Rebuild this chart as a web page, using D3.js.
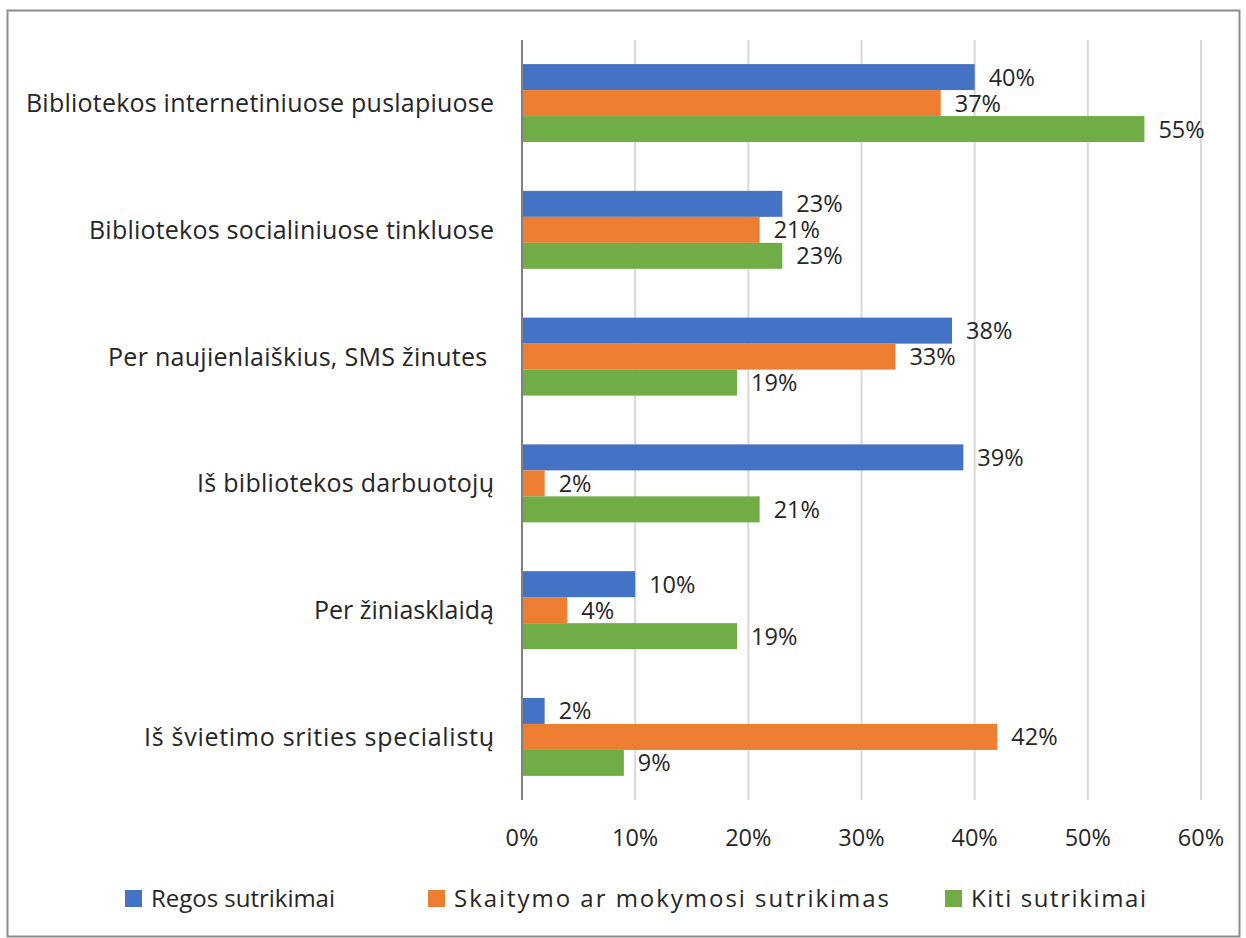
<!DOCTYPE html>
<html>
<head>
<meta charset="utf-8">
<script src="https://cdn.jsdelivr.net/npm/d3@7"></script>
<style>
  html, body { margin: 0; padding: 0; background: #fff; }
  svg text { font-family: "Open Sans", sans-serif; fill: #262626; white-space: pre; }
</style>
</head>
<body>
<svg id="chart" width="1246" height="938"></svg>
<script>
// Source categories (top to bottom)
const categories = [
  "Bibliotekos internetiniuose puslapiuose",
  "Bibliotekos socialiniuose tinkluose",
  "Per naujienlaiškius, SMS žinutes ",
  "Iš bibliotekos darbuotojų",
  "Per žiniasklaidą",
  "Iš švietimo srities specialistų"
];
const seriesNames = ["Regos sutrikimai", "Skaitymo ar mokymosi sutrikimas", "Kiti sutrikimai"];
const regos = [40, 23, 38, 39, 10, 2];
const skaitymo = [37, 21, 33, 2, 4, 42];
const kiti = [55, 23, 19, 21, 19, 9];
const xTicks = [0, 10, 20, 30, 40, 50, 60];
const colors = ["#4472C4", "#ED7D31", "#70AD47"];

// Layout: rendered widths of the category and legend texts
const categoryTextWidth = [468, 405, 386, 297, 180, 350];
const legendTextWidth = [184, 435, 175];
const legendX = [125, 428, 945];

const seriesValues = [regos, skaitymo, kiti];
const svg = d3.select("#chart");
const FONT = 23.5;

// Outer frame
svg.append("rect")
  .attr("x", 7.5).attr("y", 10.5)
  .attr("width", 1232).attr("height", 926)
  .attr("fill", "none").attr("stroke", "#8c8c8c").attr("stroke-width", 2);

const plot = { left: 522, right: 1201, top: 40, bottom: 800 };

const x = d3.scaleLinear().domain([0, 60]).range([plot.left, plot.right]);
const y = d3.scaleBand().domain(categories).range([plot.top, plot.bottom]).paddingInner(0.385).paddingOuter(0.19);
const ySub = d3.scaleBand().domain(d3.range(seriesNames.length)).range([0, y.bandwidth()]);

// Vertical gridlines
svg.append("g").selectAll("line").data(xTicks.slice(1)).join("line")
  .attr("x1", d => x(d)).attr("x2", d => x(d))
  .attr("y1", plot.top).attr("y2", plot.bottom)
  .attr("stroke", "#d9d9d9").attr("stroke-width", 2);

// Bars with value labels
const groups = svg.append("g").selectAll("g").data(categories).join("g")
  .attr("transform", d => `translate(0,${y(d)})`);

groups.each(function(cat, ci) {
  const g = d3.select(this);
  seriesValues.forEach((vals, si) => {
    g.append("rect")
      .attr("x", x(0)).attr("y", ySub(si))
      .attr("width", x(vals[ci]) - x(0))
      .attr("height", ySub.bandwidth())
      .attr("fill", colors[si]);
    g.append("text")
      .attr("x", x(vals[ci]) + 14)
      .attr("y", ySub(si) + ySub.bandwidth() / 2)
      .attr("dy", "0.36em")
      .attr("font-size", FONT)
      .text(vals[ci] + "%");
  });
});

// Vertical category axis line
svg.append("line")
  .attr("x1", x(0)).attr("x2", x(0))
  .attr("y1", plot.top).attr("y2", plot.bottom)
  .attr("stroke", "#808080").attr("stroke-width", 2);

// Category labels
svg.append("g").selectAll("text").data(categories).join("text")
  .attr("x", 494)
  .attr("y", d => y(d) + y.bandwidth() / 2)
  .attr("dy", "0.36em")
  .attr("text-anchor", "end")
  .attr("font-size", 25)
  .attr("textLength", (d, i) => categoryTextWidth[i])
  .attr("lengthAdjust", "spacing")
  .text(d => d);

// X tick labels
svg.append("g").selectAll("text").data(xTicks).join("text")
  .attr("x", d => x(d))
  .attr("y", 838)
  .attr("dy", "0.36em")
  .attr("text-anchor", "middle")
  .attr("font-size", FONT)
  .text(d => d + "%");

// Legend
const legend = svg.append("g").selectAll("g").data(seriesNames).join("g")
  .attr("transform", (d, i) => `translate(${legendX[i]},898)`);
legend.append("rect")
  .attr("x", 0).attr("y", -8).attr("width", 17).attr("height", 17)
  .attr("fill", (d, i) => colors[i]);
legend.append("text")
  .attr("x", 26).attr("y", 0).attr("dy", "0.36em")
  .attr("font-size", 24)
  .attr("textLength", (d, i) => legendTextWidth[i])
  .attr("lengthAdjust", "spacing")
  .text(d => d);
</script>
</body>
</html>
